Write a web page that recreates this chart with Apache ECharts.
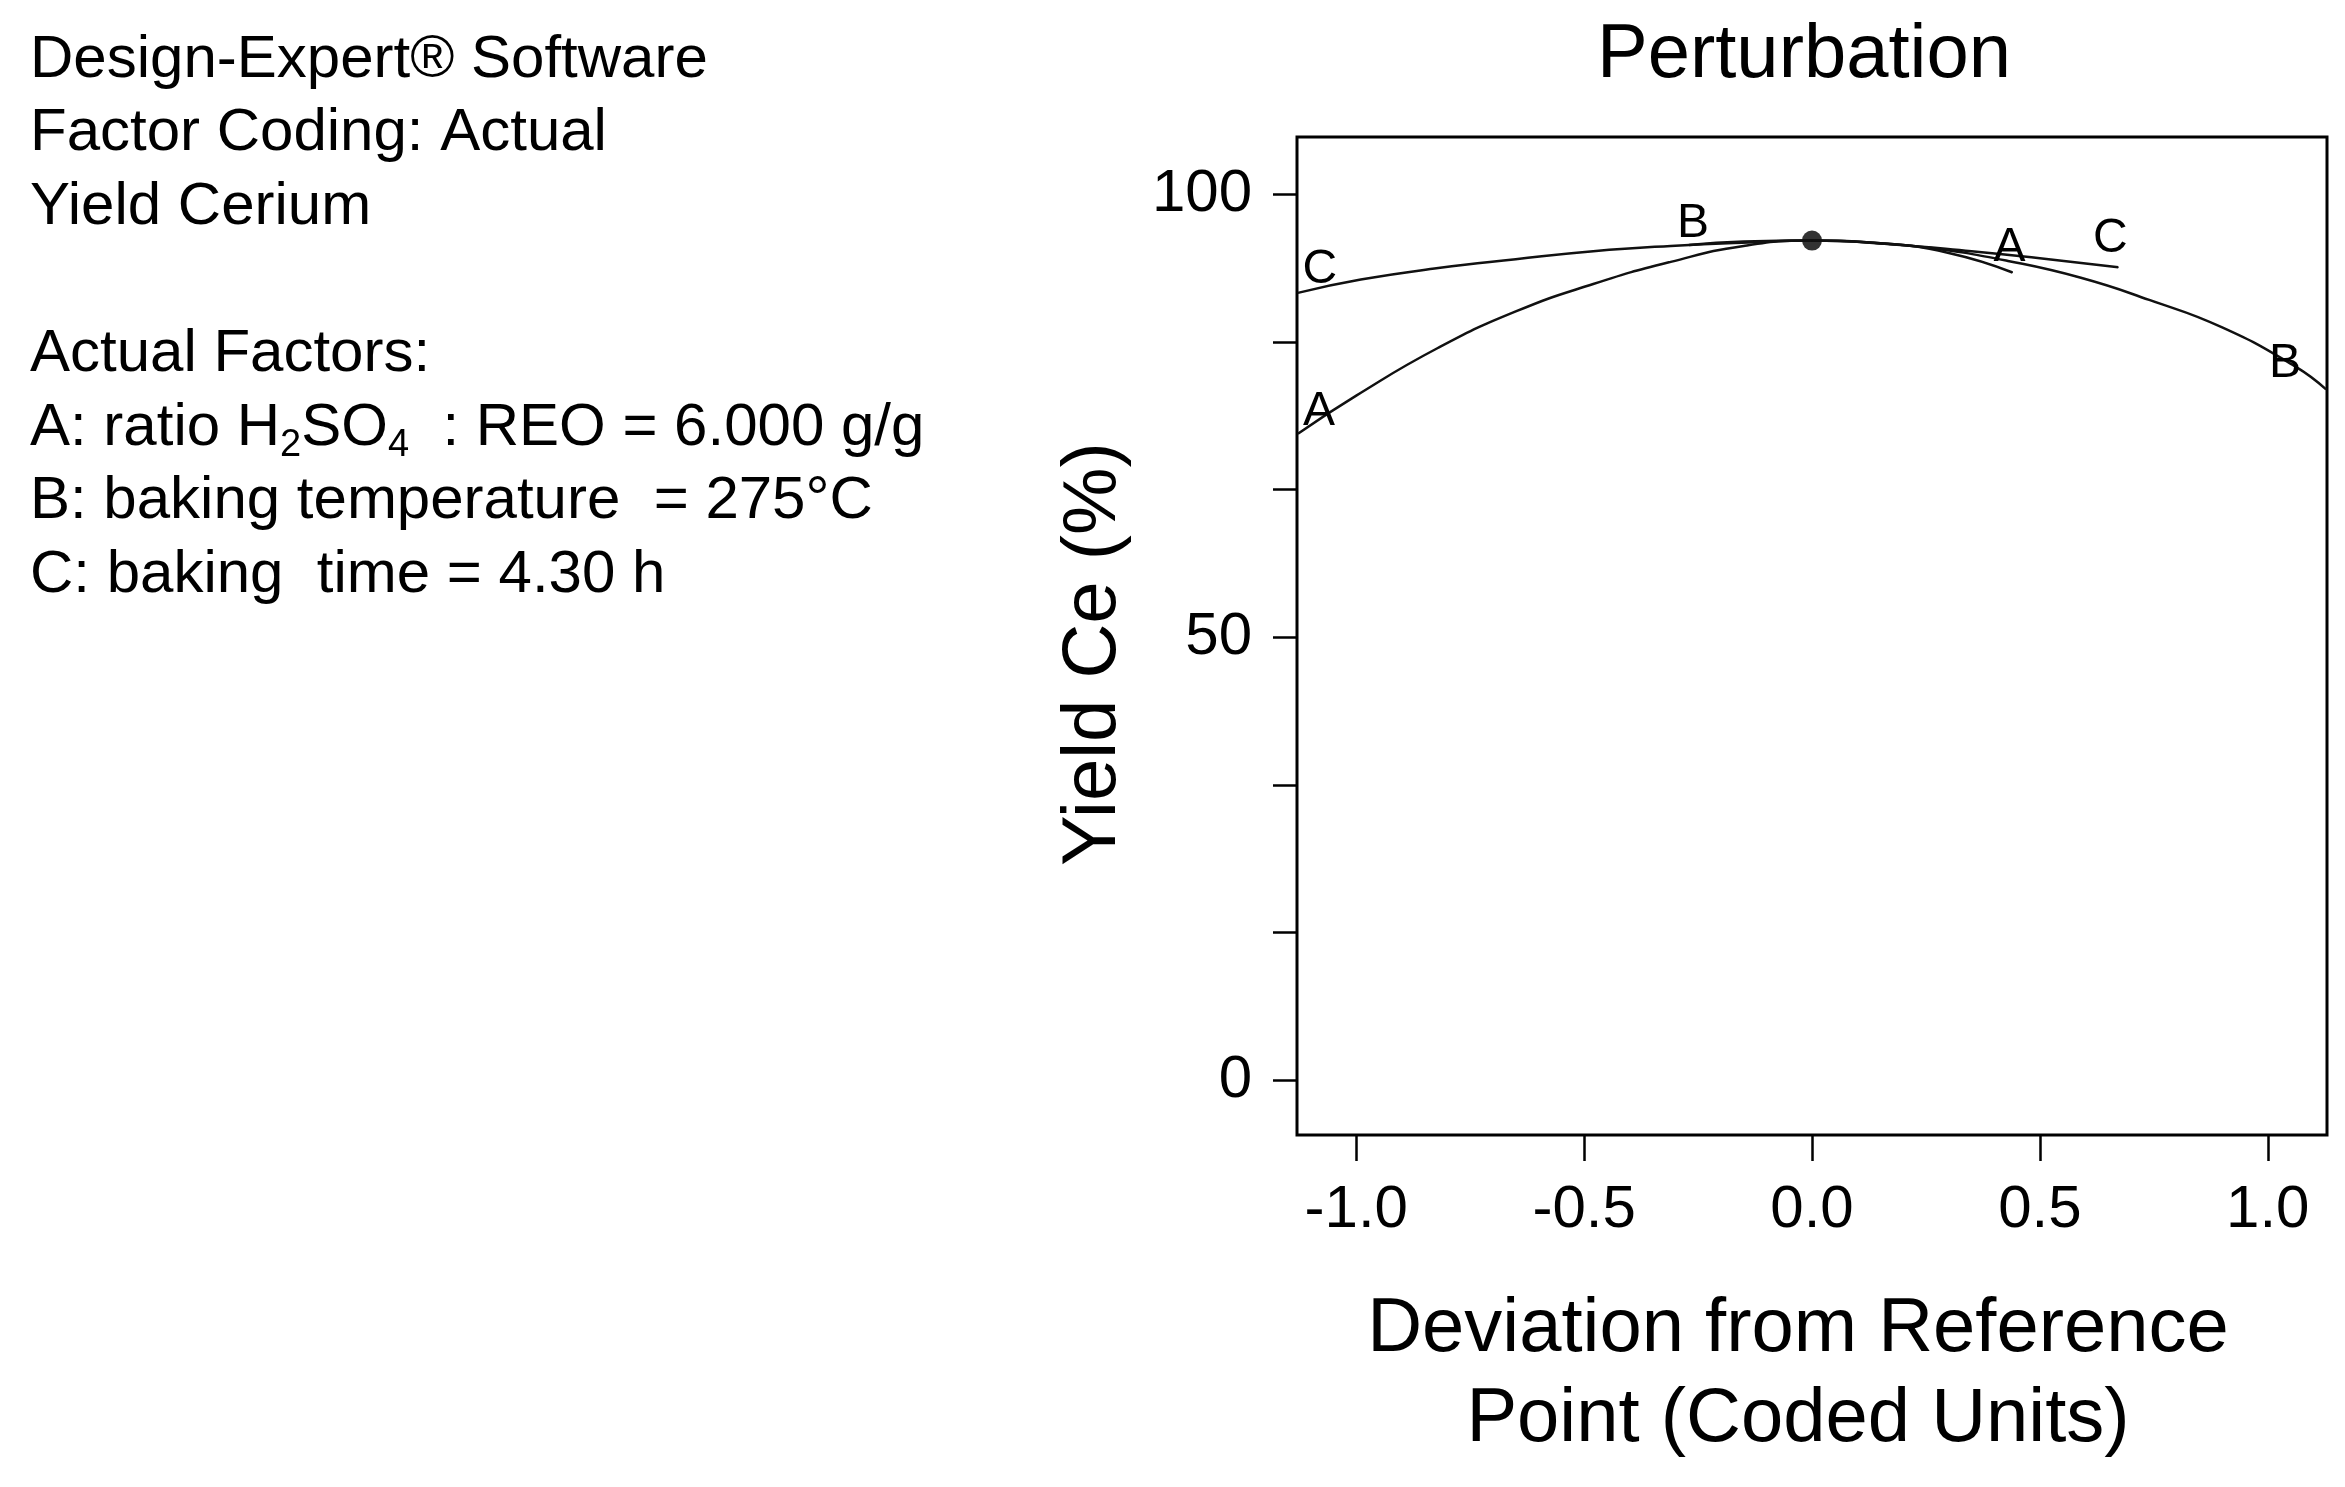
<!DOCTYPE html>
<html>
<head>
<meta charset="utf-8">
<script src="https://cdn.jsdelivr.net/npm/echarts@6/dist/echarts.min.js"></script>
<style>
  html, body { margin: 0; padding: 0; background: #fff; }
  #chart { width: 2345px; height: 1487px; }
</style>
</head>
<body>
<div id="chart"></div>
<script>
// 偏差（编码单位）与 Ce 收率
const devA = [-1.128, -1.0, -0.82, -0.65, -0.48, -0.31, -0.15, 0, 0.15, 0.3, 0.44];
const yieldA = [73.0, 77.3, 82.7, 86.8, 89.9, 92.4, 94.2, 94.8, 94.5, 93.4, 91.2];
const devB = [-0.27, -0.15, 0, 0.15, 0.27, 0.43, 0.59, 0.74, 0.9, 1.06, 1.128];
const yieldB = [94.3, 94.7, 94.8, 94.5, 93.9, 92.5, 90.6, 88.1, 85.0, 80.6, 78.0];
const devC = [-1.128, -0.99, -0.82, -0.65, -0.48, -0.31, -0.14, 0, 0.17, 0.35, 0.5, 0.672];
const yieldC = [88.9, 90.4, 91.7, 92.7, 93.6, 94.2, 94.6, 94.8, 94.4, 93.6, 92.8, 91.8];
const refPoint = [0, 94.8];

const xTicks = [-1.0, -0.5, 0.0, 0.5, 1.0];
const yTicks = [0, 50 / 3, 100 / 3, 50, 200 / 3, 250 / 3, 100];
const yLabels = [0, 50, 100];

const infoLines = [
  "Design-Expert® Software",
  "Factor Coding: Actual",
  "Yield Cerium",
  "",
  "Actual Factors:",
  "A: ratio H{sub|2}SO{sub|4}  : REO = 6.000 g/g",
  "B: baking temperature  = 275°C",
  "C: baking  time = 4.30 h",
];

const FONT = "'Liberation Sans', Arial, sans-serif";

// 两端字母标签
function buildData(xs, ys, name, startOffset, endOffset) {
  return xs.map(function (x, i) {
    let item = { value: [x, ys[i]] };
    if (i === 0 || i === xs.length - 1) {
      item.label = {
        show: true,
        formatter: name,
        offset: i === 0 ? startOffset : endOffset,
      };
    }
    return item;
  });
}

function curve(name, xs, ys, startOffset, endOffset) {
  return {
    name: name,
    type: "line",
    smooth: true,
    symbol: "circle",
    symbolSize: 1,
    showSymbol: true,
    itemStyle: { color: "#111" },
    lineStyle: { color: "#111", width: 2.5 },
    label: {
      show: false,
      position: "inside",
      color: "#000",
      fontSize: 48,
      fontFamily: FONT,
      align: "center",
      verticalAlign: "middle",
    },
    emphasis: { disabled: true },
    data: buildData(xs, ys, name, startOffset, endOffset),
  };
}

let chart = echarts.init(document.getElementById("chart"));

let graphics = infoLines.map(function (line, i) {
  return {
    type: "text",
    left: 30,
    top: 60 + i * 73.6 - 37,
    style: {
      text: line,
      fill: "#000",
      font: "60px " + FONT,
      lineHeight: 74,
      rich: {
        sub: {
          fontSize: 38,
          fontFamily: FONT,
          verticalAlign: "bottom",
          lineHeight: 74,
        },
      },
    },
  };
});

let option = {
  backgroundColor: "#fff",
  animation: false,
  textStyle: { fontFamily: FONT },
  title: {
    text: "Perturbation",
    left: 1799,
    top: 13,
    textAlign: "center",
    textStyle: { fontSize: 76, fontWeight: "normal", color: "#000", fontFamily: FONT },
  },
  graphic: graphics,
  grid: {
    left: 1297,
    right: 18,
    top: 137,
    bottom: 352,
    show: true,
    borderColor: "#000",
    borderWidth: 3,
    backgroundColor: "transparent",
  },
  xAxis: {
    type: "value",
    min: -1.13,
    max: 1.13,
    name: "Deviation from Reference\nPoint (Coded Units)",
    nameLocation: "middle",
    nameGap: 150,
    nameTextStyle: { fontSize: 76, color: "#000", lineHeight: 90, fontFamily: FONT, padding: [0, 28, 0, 0] },
    axisLine: { show: false, onZero: false },
    splitLine: { show: false },
    axisTick: {
      show: true,
      length: 26,
      customValues: xTicks,
      lineStyle: { color: "#000", width: 2.5 },
    },
    axisLabel: {
      customValues: xTicks,
      fontSize: 60,
      color: "#000",
      margin: 45,
      formatter: function (v) { return v.toFixed(1); },
    },
  },
  yAxis: {
    type: "value",
    min: -6.2,
    max: 106.5,
    name: "Yield Ce (%)",
    nameLocation: "middle",
    nameGap: 165,
    nameTextStyle: { fontSize: 76, color: "#000", fontFamily: FONT, padding: [0, 36, 0, 0] },
    axisLine: { show: false, onZero: false },
    splitLine: { show: false },
    axisTick: {
      show: true,
      length: 24,
      customValues: yTicks,
      lineStyle: { color: "#000", width: 2.5 },
    },
    axisLabel: {
      customValues: yLabels,
      fontSize: 60,
      color: "#000",
      margin: 45,
    },
  },
  series: [
    curve("A", devA, yieldA, [21, -22], [-3, -25]),
    curve("B", devB, yieldB, [4, -21], [-41, -26]),
    curve("C", devC, yieldC, [22, -23], [-8, -28]),
    {
      name: "ref",
      type: "scatter",
      symbol: "circle",
      symbolSize: 20,
      itemStyle: { color: "#000" },
      emphasis: { disabled: true },
      data: [refPoint],
    },
  ],
};
chart.setOption(option);
</script>
</body>
</html>
